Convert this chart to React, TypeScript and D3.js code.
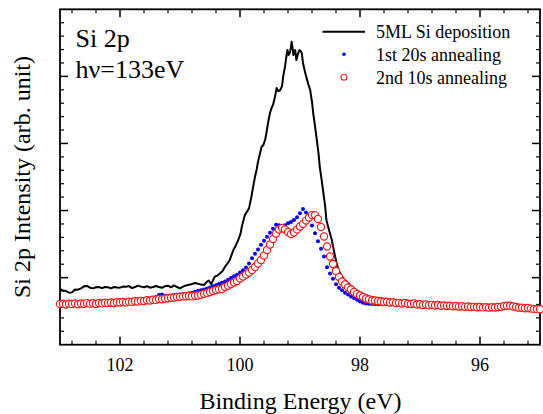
import React from "react";
import * as d3 from "d3";

// ---------- data ----------
// 5ML Si deposition : [binding energy (eV), intensity]
const depositionSeries: [number, number][] = [
  [103.0,4.15],[102.95,4.05],[102.9,4.0],[102.85,3.88],[102.8,3.9],[102.75,4.12],[102.7,4.1],[102.65,4.2],[102.6,4.35],[102.55,4.38],
  [102.5,4.25],[102.45,4.2],[102.4,4.28],[102.35,4.3],[102.3,4.22],[102.25,4.3],[102.2,4.28],[102.15,4.2],[102.1,4.3],[102.05,4.26],
  [102.0,4.25],[101.95,4.33],[101.9,4.32],[101.85,4.37],[101.8,4.22],[101.75,4.3],[101.7,4.4],[101.65,4.33],[101.6,4.28],[101.55,4.36],
  [101.5,4.25],[101.45,4.3],[101.4,4.38],[101.35,4.3],[101.3,4.24],[101.25,4.36],[101.2,4.4],[101.15,4.28],[101.1,4.42],[101.05,4.3],
  [101.0,4.2],[100.95,4.33],[100.9,4.42],[100.85,4.47],[100.8,4.52],[100.75,4.6],[100.7,4.55],[100.65,4.48],[100.6,4.45],[100.55,4.7],
  [100.52,4.78],[100.48,4.5],[100.45,4.8],[100.42,5.07],[100.38,5.15],[100.33,5.32],[100.29,5.5],[100.25,5.81],[100.21,6.05],[100.17,6.31],
  [100.14,6.7],[100.11,7.06],[100.07,7.4],[100.03,7.8],[99.99,8.3],[99.97,8.79],[99.94,9.3],[99.92,9.66],[99.88,9.95],[99.85,10.16],
  [99.81,11.03],[99.78,11.8],[99.75,12.52],[99.72,13.1],[99.7,13.64],[99.67,14.2],[99.64,14.75],[99.61,14.88],[99.58,15.3],[99.56,15.77],
  [99.53,16.6],[99.5,17.27],[99.47,17.7],[99.45,17.86],[99.42,18.4],[99.39,19.13],[99.36,18.9],[99.33,18.98],[99.3,19.28],[99.28,20.0],
  [99.25,20.72],[99.23,21.4],[99.21,21.96],[99.19,21.6],[99.17,21.75],[99.15,22.2],[99.14,22.58],[99.12,22.0],[99.11,21.59],[99.09,21.9],
  [99.08,21.96],[99.06,21.22],[99.04,21.6],[99.01,21.96],[98.99,21.9],[98.97,21.74],[98.95,21.0],[98.92,20.4],[98.89,19.87],[98.86,19.4],
  [98.83,18.98],[98.8,18.1],[98.78,17.27],[98.75,16.3],[98.72,15.26],[98.69,14.2],[98.67,13.24],[98.64,12.3],[98.61,11.3],[98.58,10.3],
  [98.56,9.29],[98.52,8.6],[98.47,7.8],[98.43,6.9],[98.39,6.06],[98.36,5.6],[98.33,5.32],[98.28,4.95],[98.22,4.69],[98.14,4.35],
  [98.06,4.08],[98.0,3.9],[97.95,3.78],[97.9,3.7],[97.83,3.58],[97.75,3.5],[97.67,3.46],[97.58,3.4],[97.5,3.35],[97.42,3.3],
  [97.33,3.2],[97.25,3.25],[97.17,3.22],[97.08,3.15],[97.0,3.12],[96.92,3.18],[96.83,3.15],[96.75,3.1],[96.67,3.08],[96.58,3.06],
  [96.5,3.05],[96.42,3.02],[96.33,3.0],[96.25,2.98],[96.17,2.96],[96.08,2.95],[96.0,2.92],[95.92,2.9],[95.83,2.88],[95.75,2.86],
  [95.67,2.83],[95.58,2.86],[95.5,2.85],[95.42,2.78],[95.33,2.74],[95.25,2.72],[95.17,2.7],[95.08,2.67],[95.0,2.64],
];

// annealing scans sampled from 103 eV downwards every 0.05 eV
const scanStart = 103;
const scanStep = 0.05;

const anneal1Values: number[] = [
  3.00,3.02,2.98,3.03,3.01,3.05,3.00,3.04,3.03,3.07,3.04,3.08,3.05,3.09,3.07,3.11,3.09,3.13,3.12,3.16,
  3.14,3.18,3.17,3.22,3.21,3.26,3.25,3.30,3.31,3.38,3.40,3.47,3.55,3.70,
  3.75,3.65,3.62,3.64,3.68,3.71,3.74,3.77,3.80,
  3.84,3.88,3.94,4.00,4.05,4.12,4.19,4.26,4.35,4.44,4.53,4.62,4.72,4.84,4.98,5.10,5.22,5.38,
  5.55,5.75,6.05,6.45,6.78,7.10,7.45,7.75,
  8.05,8.35,8.65,8.95,8.90,8.78,8.90,9.05,9.15,9.30,9.50,9.80,10.12,9.85,9.45,8.88,8.30,7.72,7.15,6.58,
  5.78,5.30,4.92,4.50,4.25,4.05,3.88,3.75,3.60,3.48,3.35,
  3.22,3.12,3.08,3.06,3.04,3.03,3.02,3.02,
  3.05,3.04,3.02,3.03,2.99,3.00,2.97,2.99,2.95,2.94,2.96,2.91,2.92,2.88,2.90,2.86,2.88,2.84,2.86,2.82,
  2.84,2.80,2.82,2.78,2.80,2.76,2.78,2.74,2.76,2.73,2.74,2.71,2.73,2.70,2.72,2.69,2.71,2.70,2.72,2.74,
  2.78,2.80,2.79,2.75,2.71,2.68,2.66,2.64,2.65,2.61,2.60,2.58,2.57,
];

const anneal2Values: number[] = [
  3.03,3.05,3.00,3.06,3.04,3.08,3.02,3.07,3.05,3.10,3.06,3.09,3.04,3.11,3.08,3.13,3.10,3.15,3.11,3.16,
  3.14,3.18,3.15,3.21,3.19,3.24,3.22,3.27,3.26,3.31,3.29,3.35,3.34,3.40,3.39,3.44,3.46,3.50,3.52,3.55,
  3.57,3.60,3.61,3.63,3.60,3.64,3.67,3.73,3.79,3.86,3.93,4.00,4.08,4.13,4.15,4.30,4.39,4.52,4.63,4.75,
  4.93,5.08,5.23,5.38,5.57,5.79,6.05,6.31,6.65,7.06,7.47,7.88,8.29,8.58,8.70,8.58,8.40,8.25,8.36,8.58,
  8.81,8.99,9.25,9.48,9.66,9.66,9.37,8.77,8.06,7.32,6.57,6.01,5.49,5.04,4.71,4.49,4.26,4.11,3.93,3.78,
  3.67,3.55,3.44,3.37,3.29,3.29,3.26,3.22,3.18,3.20,3.14,3.17,3.11,3.12,3.07,3.11,3.05,3.03,3.07,3.00,
  3.02,2.96,3.00,2.94,2.97,2.92,2.96,2.90,2.93,2.88,2.91,2.86,2.88,2.84,2.87,2.82,2.85,2.81,2.82,2.79,
  2.81,2.78,2.80,2.76,2.79,2.77,2.81,2.82,2.88,2.90,2.91,2.85,2.81,2.76,2.75,2.72,2.73,2.69,2.67,2.65,
  2.64,
];

const legendLabels = ["5ML Si deposition", "1st 20s annealing", "2nd 10s annealing"];
const xMajorTicks = [102, 100, 98, 96];
const xMinorTickStep = 0.4;
const yMajorTicks = [5, 10, 15, 20];
const yMinorTickStep = 1;
const xDomain: [number, number] = [103, 95];
const yDomain: [number, number] = [0, 25];

// ---------- layout ----------
const W = 543;
const H = 414;
const left = 60, right = 540, top = 9.3, bottom = 344.7;
const FONT = "Liberation Serif, Times New Roman, serif";
const txt = { fontFamily: FONT };

export default function App() {
  const x = d3.scaleLinear().domain(xDomain).range([left, right]);
  const y = d3.scaleLinear().domain(yDomain).range([bottom, top]);

  const line = d3
    .line<[number, number]>()
    .x((d) => x(d[0]))
    .y((d) => y(d[1]));

  const scan1 = anneal1Values.map((v, i) => [scanStart - i * scanStep, v] as [number, number]);
  const scan2 = anneal2Values.map((v, i) => [scanStart - i * scanStep, v] as [number, number]);

  const xMinor: number[] = [];
  for (let t = xMajorTicks[xMajorTicks.length - 1] - 2 * xMinorTickStep; t <= xDomain[0] + 1e-6; t += xMinorTickStep) {
    const tt = Math.round(t * 100) / 100;
    if (tt > xDomain[1] && tt < xDomain[0] && !xMajorTicks.some((m) => Math.abs(m - tt) < 1e-6)) xMinor.push(tt);
  }
  const yMinor: number[] = [];
  for (let t = yDomain[0] + yMinorTickStep; t < yDomain[1]; t += yMinorTickStep) {
    if (!yMajorTicks.includes(t)) yMinor.push(t);
  }

  const MAJ = 8, MIN = 4;

  return (
    <svg width={W} height={H} style={{ position: "absolute", left: 0, top: 0, background: "#fff" }}>
      <rect x={0} y={0} width={W} height={H} fill="#fff" />
      {/* frame */}
      <rect x={left} y={top} width={right - left} height={bottom - top} fill="none" stroke="#000" strokeWidth={1.8} />
      {/* x ticks (bottom & top, inward) */}
      {xMajorTicks.map((t) => (
        <g key={"xM" + t}>
          <line x1={x(t)} x2={x(t)} y1={bottom} y2={bottom - MAJ} stroke="#000" strokeWidth={1.5} />
          <line x1={x(t)} x2={x(t)} y1={top} y2={top + MAJ} stroke="#000" strokeWidth={1.5} />
          <text x={x(t)} y={370.5} fontSize={18} textAnchor="middle" fill="#000" style={txt}>
            {t}
          </text>
        </g>
      ))}
      {xMinor.map((t) => (
        <g key={"xm" + t}>
          <line x1={x(t)} x2={x(t)} y1={bottom} y2={bottom - MIN} stroke="#000" strokeWidth={1.2} />
          <line x1={x(t)} x2={x(t)} y1={top} y2={top + MIN} stroke="#000" strokeWidth={1.2} />
        </g>
      ))}
      {/* y ticks (left & right, inward) */}
      {yMajorTicks.map((t) => (
        <g key={"yM" + t}>
          <line x1={left} x2={left + MAJ} y1={y(t)} y2={y(t)} stroke="#000" strokeWidth={1.5} />
          <line x1={right} x2={right - MAJ} y1={y(t)} y2={y(t)} stroke="#000" strokeWidth={1.5} />
        </g>
      ))}
      {yMinor.map((t) => (
        <g key={"ym" + t}>
          <line x1={left} x2={left + MIN} y1={y(t)} y2={y(t)} stroke="#000" strokeWidth={1.2} />
          <line x1={right} x2={right - MIN} y1={y(t)} y2={y(t)} stroke="#000" strokeWidth={1.2} />
        </g>
      ))}

      {/* data */}
      <path d={line(depositionSeries) || ""} fill="none" stroke="#000" strokeWidth={2} strokeLinejoin="round" />
      {scan1.map((d, i) => (
        <circle key={"b" + i} cx={x(d[0])} cy={y(d[1])} r={2} fill="#0000ff" />
      ))}
      {scan2.map((d, i) => (
        <circle key={"r" + i} cx={x(d[0])} cy={y(d[1])} r={3.6} fill="#fff" stroke="#ff1a1a" strokeWidth={1.2} />
      ))}

      {/* annotations */}
      <text x={75.5} y={47} fontSize={26} fill="#000" style={txt}>Si 2p</text>
      <text x={75.5} y={78} fontSize={26} fill="#000" style={txt}>hν=133eV</text>

      {/* legend */}
      <line x1={322.5} x2={365} y1={31.7} y2={31.7} stroke="#000" strokeWidth={2} />
      <circle cx={344} cy={54.3} r={1.8} fill="#0000ff" />
      <circle cx={344} cy={77.3} r={3} fill="#fff" stroke="#ff1a1a" strokeWidth={1.1} />
      {legendLabels.map((l, i) => (
        <text key={l} x={376} y={37.5 + i * 23} fontSize={18} fill="#000" style={txt}>
          {l}
        </text>
      ))}

      {/* axis titles */}
      <text x={300.5} y={409} fontSize={24} textAnchor="middle" fill="#000" style={txt}>
        Binding Energy (eV)
      </text>
      <text transform="translate(30,177) rotate(-90)" fontSize={24} textAnchor="middle" fill="#000" style={txt}>
        Si 2p Intensity (arb. unit)
      </text>
    </svg>
  );
}
